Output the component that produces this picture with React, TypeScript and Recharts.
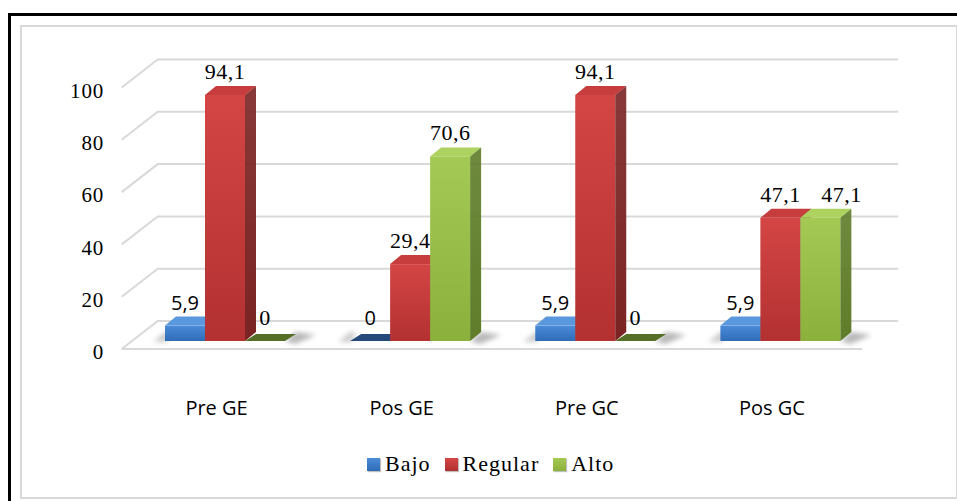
import React from 'react';
import { BarChart, Bar, XAxis, YAxis, CartesianGrid, LabelList, Legend } from 'recharts';

// valores (%) por grupo
const categorias = ['Pre GE', 'Pos GE', 'Pre GC', 'Pos GC'];
const bajo = [5.9, 0, 5.9, 5.9];
const regular = [94.1, 29.4, 94.1, 47.1];
const alto = [0, 70.6, 0, 47.1];
const marcasY = [0, 20, 40, 60, 80, 100];

const datos = categorias.map((cat, i) => ({
  cat,
  bajo: bajo[i],
  regular: regular[i],
  alto: alto[i],
}));

// profundidad de las barras y del piso (perspectiva)
const DX = 11;
const DY = 9;
const K = 36 / 28; // desplazamiento x por cada px de profundidad
const FRENTE = 8;
const FONDO = 20;

const SERIF = '"Liberation Serif", "Times New Roman", serif';
const SANS = '"Open Sans", "Noto Sans", sans-serif';

type Paleta = { id: string; claro: string; oscuro: string; tapa: string; lado: string; cero: string };

const azul: Paleta = { id: 'az', claro: '#4b8bd8', oscuro: '#2f6cb8', tapa: '#5a98de', lado: '#2a5790', cero: '#25497a' };
const rojo: Paleta = { id: 'ro', claro: '#d44545', oscuro: '#b33131', tapa: '#c73d3d', lado: '#7b2323', cero: '#8a2a2a' };
const verde: Paleta = { id: 've', claro: '#a4c954', oscuro: '#8bb03c', tapa: '#aed25f', lado: '#5f7d29', cero: '#566f26' };

const barra3D = (p: Paleta, sombra: 'izq' | 'der' | null) => (props: any) => {
  const { x, y, width: w, height: h } = props;
  const base = y + h;
  const sombraEl =
    sombra === 'der' ? (
      <polygon
        points={`${x + w},${base} ${x + w + DX},${base - DY} ${x + w + DX + 20},${base - DY + 3} ${x + w + 10},${base + 3}`}
        fill="#000"
        opacity={0.28}
        filter="url(#difuso)"
      />
    ) : sombra === 'izq' ? (
      <polygon
        points={`${x - 12},${base + 1} ${x},${base - DY} ${x + 6},${base - DY} ${x + 2},${base + 1}`}
        fill="#000"
        opacity={0.2}
        filter="url(#difuso)"
      />
    ) : null;

  if (h < 0.5) {
    return (
      <g>
        {sombraEl}
        <polygon
          points={`${x},${base} ${x + DX},${base - DY + 2} ${x + w + DX},${base - DY + 2} ${x + w},${base}`}
          fill={p.cero}
        />
      </g>
    );
  }
  return (
    <g>
      {sombraEl}
      <rect x={x} y={y} width={w} height={h} fill={`url(#fr-${p.id})`} />
      <polygon points={`${x},${y} ${x + DX},${y - DY} ${x + w + DX},${y - DY} ${x + w},${y}`} fill={p.tapa} />
      <polygon
        points={`${x + w},${y} ${x + w + DX},${y - DY} ${x + w + DX},${base - DY} ${x + w},${base}`}
        fill={`url(#la-${p.id})`}
      />
    </g>
  );
};

// línea de la grilla: diagonal del piso + línea del fondo
const lineaGrilla = (props: any) => {
  const { x1, x2, y1, index } = props;
  const fx = x1 - FRENTE * K;
  const bx = x1 + FONDO * K;
  const esPiso = Math.abs(y1 - (props.offset ? props.offset.top + props.offset.height : y1)) < 0.5;
  return (
    <g key={`grid-${index}`}>
      <polyline
        points={`${fx},${y1 + FRENTE} ${bx},${y1 - FONDO} ${x2 + FONDO * K},${y1 - FONDO}`}
        fill="none"
        stroke="#d9d9d9"
        strokeWidth={2}
      />
      {esPiso && (
        <line x1={fx} y1={y1 + FRENTE} x2={x2 - FRENTE * K} y2={y1 + FRENTE} stroke="#d9d9d9" strokeWidth={2} />
      )}
    </g>
  );
};

// desplaza la etiqueta cuando coincide en altura con la barra vecina
const corrimiento = (serie: string, i: number) =>
  serie === 'alto' && Math.abs(alto[i] - regular[i]) < 6 ? 21 : 0;

const etiqueta = (serie: string, fuente: string, tam: number, esp: number) => (props: any) => {
  const { x, y, width, value, index } = props;
  return (
    <text
      x={x + width / 2 + corrimiento(serie, index)}
      y={y - 16}
      textAnchor="middle"
      fontFamily={fuente}
      fontSize={tam}
      letterSpacing={esp}
      fill="#000"
    >
      {String(value).replace('.', ',')}
    </text>
  );
};

const TickY = (props: any) => {
  const { y, payload } = props;
  return (
    <text x={104} y={y + 11} dy="0.35em" textAnchor="end" fontFamily={SERIF} fontSize={21} letterSpacing={0.8} fill="#000">
      {payload.value}
    </text>
  );
};

const TickX = (props: any) => {
  const { x, payload } = props;
  return (
    <text x={x - 8} y={408} dy="0.35em" textAnchor="middle" fontFamily={SANS} fontSize={20} fill="#000">
      {payload.value}
    </text>
  );
};

const leyenda = [
  { nombre: 'Bajo', p: azul },
  { nombre: 'Regular', p: rojo },
  { nombre: 'Alto', p: verde },
];

const Leyenda = () => (
  <div style={{ display: 'flex', alignItems: 'center', fontFamily: SERIF, fontSize: 22, letterSpacing: 1 }}>
    {leyenda.map((l) => (
      <div key={l.nombre} style={{ display: 'flex', alignItems: 'center', marginRight: 14 }}>
        <span
          style={{
            width: 13,
            height: 13,
            marginRight: 5,
            background: `linear-gradient(${l.p.claro}, ${l.p.oscuro})`,
            boxShadow: '1px 1px 1px rgba(0,0,0,0.25)',
          }}
        />
        <span>{l.nombre}</span>
      </div>
    ))}
  </div>
);

export default function App() {
  return (
    <div style={{ position: 'absolute', left: 0, top: 0, width: 957, height: 501, background: '#fff', overflow: 'hidden' }}>
      <div style={{ position: 'absolute', left: 8, top: 13, width: 960, height: 500, borderTop: '3px solid #000', borderLeft: '3px solid #000' }} />
      <div style={{ position: 'absolute', left: 20, top: 25, width: 934, height: 470, border: '2px solid #d9d9d9' }} />
      <div style={{ position: 'absolute', left: 0, top: 0 }}>
        <BarChart
          width={957}
          height={501}
          data={datos}
          margin={{ top: 79.5, right: 84.5, bottom: 104, left: 102 }}
          barSize={40}
          barGap={0}
        >
          <defs>
            <filter id="difuso" x="-50%" y="-50%" width="200%" height="200%">
              <feGaussianBlur stdDeviation="2.5" />
            </filter>
            {[azul, rojo, verde].map((p) => (
              <React.Fragment key={p.id}>
                <linearGradient id={`fr-${p.id}`} x1="0" y1="0" x2="0" y2="1">
                  <stop offset="0%" stopColor={p.claro} />
                  <stop offset="100%" stopColor={p.oscuro} />
                </linearGradient>
                <linearGradient id={`la-${p.id}`} x1="0" y1="0" x2="0" y2="1">
                  <stop offset="0%" stopColor={p.lado} stopOpacity={0.9} />
                  <stop offset="100%" stopColor={p.lado} />
                </linearGradient>
              </React.Fragment>
            ))}
          </defs>
          <CartesianGrid vertical={false} horizontal={lineaGrilla} />
          <XAxis dataKey="cat" axisLine={false} tickLine={false} height={30} tick={(p: any) => <TickX {...p} />} interval={0} />
          <YAxis domain={[0, 100]} ticks={marcasY} axisLine={false} tickLine={false} width={30} tick={(p: any) => <TickY {...p} />} />
          <Legend
            verticalAlign="bottom"
            wrapperStyle={{ position: 'absolute', left: 367, top: 451, width: 'auto', bottom: 'auto' }}
            content={() => <Leyenda />}
          />
          <Bar dataKey="bajo" isAnimationActive={false} shape={barra3D(azul, 'izq')}>
            <LabelList dataKey="bajo" content={etiqueta('bajo', SANS, 20, 0)} />
          </Bar>
          <Bar dataKey="regular" isAnimationActive={false} shape={barra3D(rojo, null)}>
            <LabelList dataKey="regular" content={etiqueta('regular', SERIF, 22, 0.5)} />
          </Bar>
          <Bar dataKey="alto" isAnimationActive={false} shape={barra3D(verde, 'der')}>
            <LabelList dataKey="alto" content={etiqueta('alto', SERIF, 22, 0.5)} />
          </Bar>
        </BarChart>
      </div>
    </div>
  );
}
